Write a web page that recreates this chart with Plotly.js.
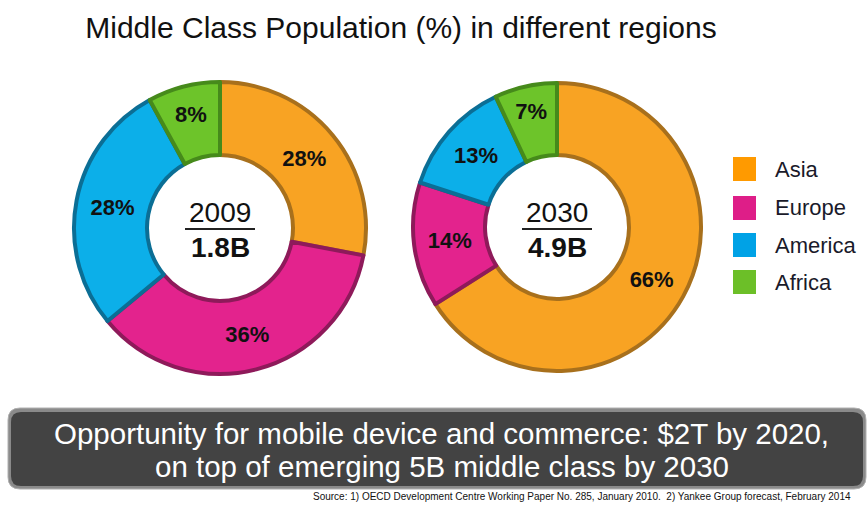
<!DOCTYPE html>
<html><head><meta charset="utf-8">
<script src="https://cdn.plot.ly/plotly-3.0.1.min.js"></script>
<style>html,body{margin:0;padding:0;background:#fff}</style>
</head><body>
<div id="chart" style="width:868px;height:505px"></div>
<script>
const regions = ["Asia", "Europe", "America", "Africa"];
const share2009 = [28, 36, 28, 8];
const share2030 = [66, 14, 13, 7];
const years = ["2009", "2030"];
const totals = ["1.8B", "4.9B"];
const sliceColors = ["#F8A323", "#E3238D", "#0CAFE9", "#6DC42A"];
const edgeColors = ["#A8701C", "#8E1A5A", "#0B6E95", "#468A1B"];
const legendColors = ["#FF9A00", "#DE1E88", "#00A2E6", "#6CBF28"];
const title = "Middle Class Population (%) in different regions";
const banner = ["Opportunity for mobile device and commerce: $2T by 2020,", "on top of emerging 5B middle class by 2030"];
const source = "Source: 1) OECD Development Centre Working Paper No. 285, January 2010.  2) Yankee Group forecast, February 2014";

const W = 868, H = 505;
const px = x => x / W;
const py = y => 1 - y / H;
const FONT = "Liberation Sans, Arial, sans-serif";

function donut(values, cx, cy, r) {
  return {
    type: "pie", labels: regions, values: values, sort: false,
    direction: "clockwise", rotation: 0, hole: 0.5,
    domain: {x: [px(cx - r), px(cx + r)], y: [py(cy + r), py(cy - r)]},
    marker: {colors: sliceColors, line: {color: edgeColors, width: 4}},
    texttemplate: "<b>%{value}%</b>", textposition: "inside",
    insidetextorientation: "horizontal",
    textfont: {family: FONT, size: 22, color: "#111"},
    hoverinfo: "label+value", showlegend: false
  };
}

const data = [donut(share2009, 220, 228, 146), donut(share2030, 557, 227, 144)];

const centers = [220, 557];
const annotations = [];
const shapes = [];
centers.forEach((cx, i) => {
  annotations.push({xref: "paper", yref: "paper", x: px(cx), y: py(213), text: years[i], showarrow: false,
    font: {family: FONT, size: 28, color: "#111"}, xanchor: "center", yanchor: "middle"});
  annotations.push({xref: "paper", yref: "paper", x: px(cx), y: py(247), text: "<b>" + totals[i] + "</b>", showarrow: false,
    font: {family: FONT, size: 28, color: "#111"}, xanchor: "center", yanchor: "middle"});
  shapes.push({type: "line", xref: "paper", yref: "paper", x0: px(cx - 35), x1: px(cx + 35), y0: py(229), y1: py(229),
    line: {color: "#222", width: 2}});
});

// legend
const legY = [169, 208, 245, 282];
regions.forEach((r, i) => {
  shapes.push({type: "rect", xref: "paper", yref: "paper", x0: px(733), x1: px(756), y0: py(legY[i] + 12), y1: py(legY[i] - 12),
    fillcolor: legendColors[i], line: {width: 0}});
  annotations.push({xref: "paper", yref: "paper", x: px(773), y: py(legY[i]), text: r, showarrow: false,
    xanchor: "left", yanchor: "middle", font: {family: FONT, size: 22, color: "#1a1a2a"}});
});

// banner box
function rrect(x0, y0, x1, y1, rr) {
  return `M ${px(x0+rr)},${py(y0)} L ${px(x1-rr)},${py(y0)} Q ${px(x1)},${py(y0)} ${px(x1)},${py(y0+rr)} L ${px(x1)},${py(y1-rr)} Q ${px(x1)},${py(y1)} ${px(x1-rr)},${py(y1)} L ${px(x0+rr)},${py(y1)} Q ${px(x0)},${py(y1)} ${px(x0)},${py(y1-rr)} L ${px(x0)},${py(y0+rr)} Q ${px(x0)},${py(y0)} ${px(x0+rr)},${py(y0)} Z`;
}
shapes.push({type: "path", xref: "paper", yref: "paper", path: rrect(8, 408, 866, 489, 12),
  fillcolor: "#8a8a8a", line: {color: "#b0b0b0", width: 1}});
shapes.push({type: "path", xref: "paper", yref: "paper", path: rrect(11, 412, 863, 486, 10),
  fillcolor: "#434343", line: {width: 0}});
annotations.push({xref: "paper", yref: "paper", x: px(442), y: py(433), text: banner[0], showarrow: false,
  xanchor: "center", yanchor: "middle", font: {family: FONT, size: 29.5, color: "#fff"}});
annotations.push({xref: "paper", yref: "paper", x: px(442), y: py(466), text: banner[1], showarrow: false,
  xanchor: "center", yanchor: "middle", font: {family: FONT, size: 29.5, color: "#fff"}});
annotations.push({xref: "paper", yref: "paper", x: px(853), y: py(496), text: source, showarrow: false,
  xanchor: "right", yanchor: "middle", font: {family: FONT, size: 10, color: "#111"}});

const layout = {
  width: W, height: H, margin: {l: 0, r: 0, t: 0, b: 0},
  paper_bgcolor: "#fff", plot_bgcolor: "#fff", showlegend: false,
  title: {text: title, x: px(401), xanchor: "center", y: py(27), yanchor: "middle",
    font: {family: FONT, size: 30, color: "#111"}},
  annotations: annotations, shapes: shapes
};

Plotly.newPlot("chart", data, layout, {displayModeBar: false, staticPlot: true});
</script>
</body></html>
